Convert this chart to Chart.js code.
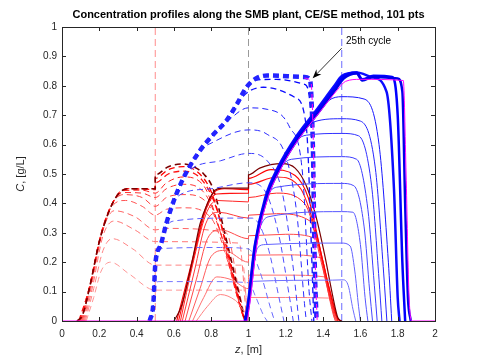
<!DOCTYPE html>
<html>
<head>
<meta charset="utf-8">
<script src="https://cdn.jsdelivr.net/npm/chart.js@4.4.1/dist/chart.umd.min.js"></script>
<style>
  html, body { margin: 0; padding: 0; background: #fff; }
</style>
</head>
<body>
<canvas id="chart" width="479" height="358"></canvas>
<script>
// ---------------------------------------------------------
// DATA  (z [m], C [g/L]) – profiles per cycle, early -> last
// ---------------------------------------------------------
const zTicks = [0, 0.2, 0.4, 0.6, 0.8, 1, 1.2, 1.4, 1.6, 1.8, 2];
const cTicks = [0, 0.1, 0.2, 0.3, 0.4, 0.5, 0.6, 0.7, 0.8, 0.9, 1];
const portZ = [0.5, 1.0, 1.5];

// red component, dashed (start of switch)
const redDashedProfiles = [
  [[0.13,0],[0.17,0.08],[0.21,0.17],[0.26,0.2],[0.36,0.16],[0.5,0.105],[0.98,0.105],[1.0,0]],
  [[0.125,0],[0.17,0.11],[0.22,0.24],[0.27,0.28],[0.38,0.245],[0.5,0.19],[0.97,0.19],[0.995,0]],
  [[0.12,0],[0.165,0.12],[0.22,0.29],[0.28,0.34],[0.39,0.31],[0.5,0.27],[0.95,0.265],[0.99,0]],
  [[0.115,0],[0.16,0.125],[0.22,0.31],[0.28,0.375],[0.39,0.355],[0.5,0.31],[0.55,0.315],[0.88,0.3],[0.95,0.1],[0.985,0]],
  [[0.11,0],[0.155,0.125],[0.215,0.31],[0.275,0.395],[0.34,0.41],[0.43,0.39],[0.5,0.36],[0.56,0.38],[0.66,0.385],[0.8,0.35],[0.9,0.18],[0.97,0.02],[0.985,0]],
  [[0.105,0],[0.155,0.13],[0.21,0.3],[0.27,0.4],[0.33,0.43],[0.43,0.42],[0.5,0.39],[0.56,0.42],[0.66,0.43],[0.78,0.4],[0.88,0.24],[0.96,0.04],[0.98,0]],
  [[0.1,0],[0.15,0.12],[0.205,0.28],[0.265,0.395],[0.325,0.437],[0.43,0.435],[0.5,0.42],[0.56,0.45],[0.65,0.465],[0.77,0.43],[0.87,0.26],[0.95,0.06],[0.98,0]],
  [[0.095,0],[0.15,0.125],[0.2,0.27],[0.26,0.385],[0.32,0.443],[0.43,0.445],[0.5,0.435],[0.56,0.47],[0.65,0.49],[0.76,0.46],[0.85,0.3],[0.94,0.08],[0.98,0]],
  [[0.09,0],[0.15,0.12],[0.2,0.27],[0.255,0.38],[0.31,0.435],[0.36,0.45],[0.5,0.447],[0.5,0.47],[0.57,0.5],[0.65,0.51],[0.75,0.48],[0.83,0.38],[0.9,0.2],[0.96,0.04],[0.98,0]],
  [[0.085,0],[0.11,0.02],[0.15,0.12],[0.2,0.27],[0.25,0.37],[0.3,0.43],[0.35,0.45],[0.5,0.45],[0.5,0.485],[0.57,0.515],[0.65,0.525],[0.73,0.505],[0.8,0.44],[0.87,0.29],[0.94,0.1],[0.98,0]],
  [[0.08,0],[0.11,0.02],[0.15,0.12],[0.2,0.27],[0.25,0.37],[0.3,0.43],[0.35,0.45],[0.5,0.45],[0.5,0.497],[0.57,0.525],[0.65,0.534],[0.72,0.52],[0.76,0.5],[0.81,0.45],[0.88,0.28],[0.95,0.09],[0.98,0.01],[1.0,0]]
];

// red component, solid (end of switch)
const redSolidProfiles = [
  [[0.72,0],[0.78,0.05],[0.85,0.09],[0.93,0.07],[0.99,0.03],[1.0,0.03],[1.0,0.08],[1.2,0.08],[1.43,0.078],[1.455,0.04],[1.475,0]],
  [[0.7,0],[0.76,0.08],[0.83,0.15],[0.91,0.14],[1.0,0.11],[1.0,0.156],[1.2,0.156],[1.41,0.15],[1.445,0.07],[1.47,0]],
  [[0.68,0],[0.74,0.11],[0.8,0.22],[0.87,0.24],[1.0,0.2],[1.0,0.224],[1.2,0.225],[1.39,0.215],[1.43,0.1],[1.465,0]],
  [[0.66,0],[0.72,0.14],[0.78,0.28],[0.85,0.31],[1.0,0.28],[1.0,0.29],[1.2,0.295],[1.36,0.28],[1.41,0.15],[1.46,0.01],[1.47,0]],
  [[0.645,0],[0.71,0.17],[0.77,0.33],[0.84,0.37],[1.0,0.35],[1.0,0.36],[1.15,0.365],[1.33,0.34],[1.39,0.2],[1.46,0.02],[1.475,0]],
  [[0.635,0],[0.7,0.19],[0.77,0.36],[0.83,0.41],[1.0,0.405],[1.0,0.42],[1.15,0.435],[1.3,0.4],[1.37,0.27],[1.45,0.05],[1.48,0]],
  [[0.625,0],[0.7,0.2],[0.77,0.375],[0.83,0.432],[1.0,0.435],[1.0,0.465],[1.15,0.49],[1.28,0.45],[1.35,0.33],[1.43,0.12],[1.48,0]],
  [[0.615,0],[0.7,0.21],[0.77,0.385],[0.82,0.44],[0.87,0.45],[1.0,0.447],[1.0,0.485],[1.12,0.515],[1.25,0.495],[1.32,0.42],[1.4,0.2],[1.47,0.02],[1.49,0]],
  [[0.6,0],[0.64,0.05],[0.7,0.21],[0.74,0.33],[0.78,0.4],[0.82,0.445],[0.86,0.452],[1.0,0.452],[1.0,0.497],[1.06,0.52],[1.18,0.535],[1.25,0.52],[1.31,0.46],[1.36,0.36],[1.41,0.22],[1.45,0.09],[1.48,0.01],[1.5,0]]
];

// blue component, dashed
const blueDashedProfiles = [
  [[0.47,0],[0.49,0.06],[0.5,0.125],[0.52,0.134],[0.8,0.134],[1.0,0.13],[1.04,0.08],[1.08,0.02],[1.1,0]],
  [[0.47,0],[0.49,0.06],[0.5,0.19],[0.52,0.24],[0.55,0.247],[0.85,0.25],[1.0,0.245],[1.06,0.17],[1.12,0.04],[1.14,0]],
  [[0.47,0],[0.49,0.06],[0.5,0.19],[0.53,0.26],[0.56,0.32],[0.6,0.34],[0.9,0.35],[1.02,0.35],[1.1,0.26],[1.17,0.06],[1.19,0]],
  [[0.47,0],[0.49,0.06],[0.5,0.19],[0.53,0.26],[0.56,0.333],[0.6,0.405],[0.65,0.435],[0.8,0.45],[1.0,0.47],[1.08,0.45],[1.16,0.3],[1.22,0.08],[1.24,0]],
  [[0.47,0],[0.49,0.06],[0.5,0.19],[0.53,0.26],[0.56,0.333],[0.6,0.41],[0.65,0.485],[0.7,0.52],[0.85,0.545],[1.0,0.57],[1.1,0.545],[1.18,0.44],[1.24,0.18],[1.27,0]],
  [[0.47,0],[0.49,0.06],[0.5,0.19],[0.53,0.26],[0.56,0.333],[0.6,0.41],[0.65,0.485],[0.74,0.58],[0.8,0.605],[1.0,0.65],[1.1,0.635],[1.2,0.56],[1.26,0.36],[1.3,0.06],[1.31,0]],
  [[0.47,0],[0.49,0.06],[0.5,0.19],[0.53,0.26],[0.56,0.333],[0.6,0.41],[0.65,0.485],[0.74,0.58],[0.82,0.64],[0.88,0.675],[1.0,0.725],[1.1,0.72],[1.22,0.66],[1.29,0.5],[1.325,0.1],[1.34,0]],
  [[0.47,0],[0.49,0.06],[0.5,0.19],[0.53,0.26],[0.56,0.333],[0.6,0.41],[0.65,0.485],[0.74,0.58],[0.82,0.64],[0.88,0.68],[0.94,0.74],[1.0,0.78],[1.08,0.795],[1.25,0.76],[1.31,0.66],[1.34,0.2],[1.35,0]],
  [[0.47,0],[0.49,0.06],[0.5,0.19],[0.53,0.26],[0.56,0.333],[0.6,0.41],[0.65,0.485],[0.74,0.58],[0.82,0.64],[0.88,0.68],[0.94,0.74],[0.99,0.796],[1.05,0.82],[1.15,0.822],[1.3,0.805],[1.335,0.7],[1.35,0.2],[1.36,0]],
  [[0.47,0],[0.49,0.06],[0.5,0.19],[0.53,0.26],[0.56,0.333],[0.6,0.41],[0.65,0.485],[0.74,0.58],[0.82,0.64],[0.88,0.68],[0.94,0.74],[0.99,0.796],[1.04,0.825],[1.1,0.835],[1.3,0.83],[1.33,0.82],[1.345,0.6],[1.355,0.2],[1.365,0]]
];

// blue component, solid
const blueSolidProfiles = [
  [[0.99,0],[1.0,0.07],[1.01,0.125],[1.03,0.135],[1.45,0.139],[1.51,0.14],[1.535,0.12],[1.56,0.04],[1.575,0]],
  [[0.988,0],[1.0,0.06],[1.03,0.2],[1.05,0.25],[1.09,0.26],[1.5,0.265],[1.545,0.255],[1.57,0.17],[1.59,0.05],[1.6,0]],
  [[0.987,0],[1.0,0.055],[1.04,0.26],[1.07,0.33],[1.11,0.355],[1.5,0.372],[1.56,0.37],[1.6,0.26],[1.625,0.08],[1.64,0]],
  [[0.986,0],[1.0,0.05],[1.04,0.26],[1.1,0.42],[1.15,0.455],[1.5,0.468],[1.565,0.46],[1.62,0.32],[1.65,0.1],[1.665,0]],
  [[0.985,0],[1.0,0.05],[1.04,0.26],[1.1,0.42],[1.17,0.52],[1.23,0.55],[1.5,0.559],[1.58,0.55],[1.64,0.38],[1.675,0.12],[1.69,0]],
  [[0.985,0],[1.0,0.05],[1.04,0.26],[1.1,0.42],[1.17,0.52],[1.26,0.615],[1.31,0.632],[1.5,0.638],[1.59,0.63],[1.66,0.46],[1.7,0.14],[1.715,0]],
  [[0.985,0],[1.0,0.05],[1.04,0.26],[1.1,0.42],[1.17,0.52],[1.26,0.615],[1.33,0.672],[1.5,0.688],[1.6,0.68],[1.68,0.52],[1.725,0.16],[1.742,0]],
  [[0.985,0],[1.0,0.05],[1.04,0.26],[1.1,0.42],[1.17,0.52],[1.26,0.615],[1.37,0.705],[1.43,0.75],[1.5,0.763],[1.62,0.755],[1.7,0.6],[1.75,0.2],[1.768,0]],
  [[0.98,0],[0.995,0.05],[1.033,0.255],[1.09,0.42],[1.16,0.525],[1.25,0.622],[1.36,0.714],[1.46,0.8],[1.5,0.833],[1.58,0.845],[1.66,0.83],[1.74,0.78],[1.78,0.45],[1.8,0.08],[1.81,0]],
  [[0.982,0],[0.997,0.05],[1.036,0.258],[1.095,0.42],[1.165,0.523],[1.255,0.618],[1.365,0.71],[1.465,0.795],[1.505,0.83],[1.58,0.845],[1.61,0.822],[1.67,0.834],[1.77,0.83],[1.8,0.7],[1.825,0.2],[1.84,0]],
  [[0.985,0],[1.0,0.05],[1.04,0.26],[1.1,0.42],[1.17,0.52],[1.26,0.615],[1.37,0.705],[1.47,0.79],[1.51,0.825],[1.58,0.842],[1.61,0.818],[1.67,0.83],[1.8,0.825],[1.825,0.78],[1.84,0.4],[1.855,0.08],[1.87,0]]
];

// last cycle overlay (magenta)
const magentaSolid = [[0,0],[0.99,0],[1.005,0.05],[1.045,0.26],[1.105,0.42],[1.175,0.52],[1.265,0.615],[1.375,0.705],[1.475,0.785],[1.52,0.815],[1.6,0.822],[1.83,0.818],[1.845,0.5],[1.86,0.1],[1.875,0],[2,0]];
const magentaDashed = [[1.3,0.826],[1.335,0.812],[1.348,0.6],[1.358,0.2],[1.368,0]];

const titleText = "Concentration profiles along the SMB plant, CE/SE method, 101 pts";
const noteText = "25th cycle";
const notePos = { x: 1.523, y: 0.952 };
const arrowFrom = { x: 1.5, y: 0.928 };
const arrowTo = { x: 1.344, y: 0.826 };

// ---------------------------------------------------------
// DATASETS
// ---------------------------------------------------------
const FONT = '"Liberation Sans", Arial, Helvetica, sans-serif';
const toXY = pts => pts.map(p => ({ x: p[0], y: p[1] }));

const layers = [];

portZ.forEach((z, i) => {
  layers.push({
    data: [{ x: z, y: 0 }, { x: z, y: 1 }],
    borderColor: ["#ff8c8c", "#9a9a9a", "#6b6bff"][i],
    borderWidth: 1,
    borderDash: [7, 4],
    tension: 0
  });
});

function addFamily(profiles, light, full, last, dashed, lastWidth, nearWidth) {
  const n = profiles.length;
  profiles.forEach((pts, i) => {
    const isLast = i === n - 1;
    const t = n > 2 ? i / (n - 2) : 1;
    const col = isLast ? last : `rgb(${light.map((v, k) => Math.round(v + (full[k] - v) * t)).join(",")})`;
    layers.push({
      data: toXY(pts),
      borderColor: col,
      borderWidth: isLast ? lastWidth : (i >= n - 3 ? nearWidth : 1),
      borderDash: dashed ? [6, 4] : [],
      cubicInterpolationMode: "monotone"
    });
  });
}

addFamily(redDashedProfiles, [255, 150, 150], [255, 0, 0], "#7a0000", true, 1.6, 1.3);
addFamily(redSolidProfiles, [255, 130, 130], [255, 0, 0], "#7a0000", false, 1.2, 1.1);
addFamily(blueDashedProfiles, [120, 120, 255], [0, 0, 255], "rgb(35,35,255)", true, 4.5, 1.3);
addFamily(blueSolidProfiles, [110, 110, 255], [0, 0, 255], "rgb(0,0,235)", false, 2.5, 2.5);

layers.push({ data: toXY(magentaDashed), borderColor: "#ff00ff", borderWidth: 1, borderDash: [6, 4], cubicInterpolationMode: "monotone" });
layers.push({ data: toXY(magentaSolid), borderColor: "#ff00ff", borderWidth: 1, cubicInterpolationMode: "monotone" });

// first pushed = painted first (bottom)
layers.forEach((ds, i) => {
  ds.order = layers.length - i;
  ds.pointRadius = 0;
  ds.fill = false;
});

// ---------------------------------------------------------
// FRAME, TICKS, LABELS, ANNOTATION
// ---------------------------------------------------------
const frame = {
  id: "frame",
  afterDraw(chart) {
    const { ctx, chartArea: a, scales: { x, y } } = chart;
    ctx.save();

    ctx.strokeStyle = "#262626";
    ctx.lineWidth = 1;
    ctx.strokeRect(a.left + 0.5, a.top + 0.5, a.right - a.left, a.bottom - a.top);

    ctx.beginPath();
    zTicks.forEach(v => {
      const px = Math.round(x.getPixelForValue(v)) + 0.5;
      ctx.moveTo(px, a.bottom); ctx.lineTo(px, a.bottom - 4);
      ctx.moveTo(px, a.top); ctx.lineTo(px, a.top + 4);
    });
    cTicks.forEach(v => {
      const py = Math.round(y.getPixelForValue(v)) + 0.5;
      ctx.moveTo(a.left, py); ctx.lineTo(a.left + 4, py);
      ctx.moveTo(a.right, py); ctx.lineTo(a.right - 4, py);
    });
    ctx.stroke();

    // title
    ctx.fillStyle = "#000";
    ctx.font = `bold 11px ${FONT}`;
    ctx.textAlign = "center";
    ctx.textBaseline = "middle";
    ctx.fillText(titleText, (a.left + a.right) / 2, 15);

    // axis labels with italic symbol
    const mixed = (sym, rest, cx, cy) => {
      ctx.font = `italic 11px ${FONT}`;
      const w1 = ctx.measureText(sym).width;
      ctx.font = `11px ${FONT}`;
      const w2 = ctx.measureText(rest).width;
      let sx = cx - (w1 + w2) / 2;
      ctx.textAlign = "left";
      ctx.font = `italic 11px ${FONT}`;
      ctx.fillText(sym, sx, cy);
      ctx.font = `11px ${FONT}`;
      ctx.fillText(rest, sx + w1, cy);
    };
    ctx.fillStyle = "#262626";
    mixed("z", ", [m]", (a.left + a.right) / 2, 350);
    ctx.save();
    ctx.translate(21, (a.top + a.bottom) / 2);
    ctx.rotate(-Math.PI / 2);
    mixed("C", ", [g/L]", 0, 0);
    ctx.restore();

    // annotation
    ctx.fillStyle = "#000";
    ctx.font = `10px ${FONT}`;
    ctx.textAlign = "left";
    ctx.fillText(noteText, x.getPixelForValue(notePos.x), y.getPixelForValue(notePos.y));

    const x0 = x.getPixelForValue(arrowFrom.x), y0 = y.getPixelForValue(arrowFrom.y);
    const x1 = x.getPixelForValue(arrowTo.x), y1 = y.getPixelForValue(arrowTo.y);
    const ang = Math.atan2(y1 - y0, x1 - x0);
    ctx.strokeStyle = "#000";
    ctx.lineWidth = 0.8;
    ctx.beginPath();
    ctx.moveTo(x0, y0);
    ctx.lineTo(x1 - 6 * Math.cos(ang), y1 - 6 * Math.sin(ang));
    ctx.stroke();
    ctx.beginPath();
    ctx.moveTo(x1, y1);
    ctx.lineTo(x1 - 9 * Math.cos(ang) + 3.5 * Math.sin(ang), y1 - 9 * Math.sin(ang) - 3.5 * Math.cos(ang));
    ctx.lineTo(x1 - 6 * Math.cos(ang), y1 - 6 * Math.sin(ang));
    ctx.lineTo(x1 - 9 * Math.cos(ang) - 3.5 * Math.sin(ang), y1 - 9 * Math.sin(ang) + 3.5 * Math.cos(ang));
    ctx.closePath();
    ctx.fill();

    ctx.restore();
  }
};

// ---------------------------------------------------------
// CHART
// ---------------------------------------------------------
new Chart(document.getElementById("chart"), {
  type: "line",
  data: { datasets: layers },
  options: {
    responsive: false,
    animation: false,
    devicePixelRatio: 1,
    events: [],
    layout: { padding: { top: 27, right: 44, left: 0, bottom: 0 } },
    plugins: { legend: { display: false }, tooltip: { enabled: false } },
    scales: {
      x: {
        type: "linear", min: 0, max: 2,
        afterBuildTicks: s => { s.ticks = zTicks.map(v => ({ value: v })); },
        afterFit: s => { s.height = 37; },
        grid: { display: false, drawTicks: false },
        border: { display: false },
        ticks: { padding: 7, color: "#262626", font: { family: FONT, size: 10 }, maxRotation: 0, autoSkip: false, callback: v => String(v) }
      },
      y: {
        type: "linear", min: 0, max: 1,
        afterBuildTicks: s => { s.ticks = cTicks.map(v => ({ value: v })); },
        afterFit: s => { s.width = 62; },
        grid: { display: false, drawTicks: false },
        border: { display: false },
        ticks: { padding: 5, color: "#262626", font: { family: FONT, size: 10 }, autoSkip: false, callback: v => String(v) }
      }
    }
  },
  plugins: [frame]
});
</script>
</body>
</html>
